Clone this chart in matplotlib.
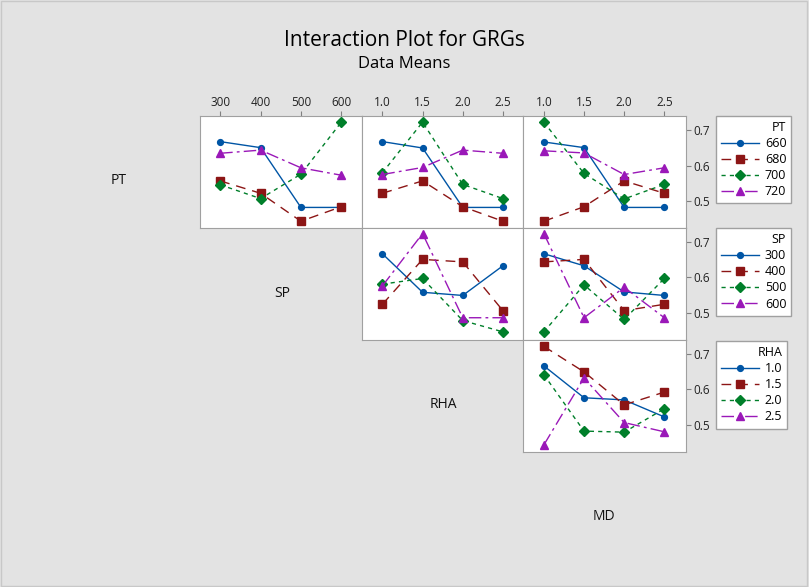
import numpy as np
import matplotlib.pyplot as plt
from matplotlib.lines import Line2D

plt.rcParams['font.family'] = ['Open Sans', 'DejaVu Sans']

# factor levels
sp_levels = [300, 400, 500, 600]
rha_levels = [1.0, 1.5, 2.0, 2.5]
md_levels = [1.0, 1.5, 2.0, 2.5]
pt_labels = ['660', '680', '700', '720']
sp_labels = ['300', '400', '500', '600']
rha_labels = ['1.0', '1.5', '2.0', '2.5']

# data means, one row per level of the trace factor
pt_x_sp = [[0.668, 0.651, 0.482, 0.482],
           [0.557, 0.522, 0.443, 0.484],
           [0.546, 0.507, 0.576, 0.723],
           [0.635, 0.644, 0.594, 0.573]]
pt_x_rha = [[0.668, 0.650, 0.482, 0.482],
            [0.522, 0.557, 0.484, 0.443],
            [0.580, 0.723, 0.547, 0.507],
            [0.575, 0.595, 0.644, 0.635]]
pt_x_md = [[0.667, 0.651, 0.482, 0.482],
           [0.443, 0.484, 0.557, 0.522],
           [0.723, 0.578, 0.506, 0.547],
           [0.642, 0.636, 0.575, 0.594]]
sp_x_rha = [[0.667, 0.558, 0.549, 0.633],
            [0.524, 0.651, 0.644, 0.506],
            [0.581, 0.597, 0.478, 0.446],
            [0.576, 0.724, 0.486, 0.486]]
sp_x_md = [[0.667, 0.633, 0.559, 0.549],
           [0.644, 0.651, 0.506, 0.524],
           [0.446, 0.579, 0.481, 0.597],
           [0.724, 0.486, 0.572, 0.486]]
rha_x_md = [[0.666, 0.576, 0.570, 0.522],
            [0.721, 0.649, 0.556, 0.592],
            [0.641, 0.482, 0.479, 0.545],
            [0.443, 0.632, 0.506, 0.480]]

colors = ['#0055a5', '#8c1515', '#007f2a', '#9a18b8']
markers = ['o', 's', 'D', '^']
msizes = [4.2, 5.8, 5.0, 6.2]
dashes = ['-', (0, (7, 5)), (0, (3, 3)), (0, (9, 3, 2, 3))]

W, H = 809, 587
fig = plt.figure(figsize=(W / 100, H / 100), dpi=100, facecolor='#e3e3e3')
fig.patches.append(plt.Rectangle((0.001, 0.002), 0.997, 0.996, transform=fig.transFigure,
                                 fill=False, edgecolor='#c8c8c8', lw=1))

col_edges = [200, 361.5, 523, 686]
row_edges = [116.5, 228.3, 340, 452]
xlims = [(250, 650), (0.74, 2.75), (0.74, 2.77)]
ylim = (0.423, 0.739)

panels = {(0, 0): (sp_levels, pt_x_sp), (0, 1): (rha_levels, pt_x_rha), (0, 2): (md_levels, pt_x_md),
          (1, 1): (rha_levels, sp_x_rha), (1, 2): (md_levels, sp_x_md),
          (2, 2): (md_levels, rha_x_md)}
xticklabels = [sp_labels, rha_labels, rha_labels]

axes = {}
for (r, c), (xs, means) in panels.items():
    l, rr = col_edges[c], col_edges[c + 1]
    t, b = row_edges[r], row_edges[r + 1]
    ax = fig.add_axes([l / W, 1 - b / H, (rr - l) / W, (b - t) / H])
    axes[(r, c)] = ax
    for i, ys in enumerate(means):
        ax.plot(xs, ys, color=colors[i], marker=markers[i], ms=msizes[i], lw=1,
                linestyle=dashes[i], mec=colors[i])
    ax.set_xlim(xlims[c])
    ax.set_ylim(ylim)
    for s in ax.spines.values():
        s.set_color('#a0a0a0')
    if r == 0:
        ax.xaxis.tick_top()
        ax.set_xticks(xs)
        ax.set_xticklabels(xticklabels[c])
    else:
        ax.set_xticks([])
    if c == 2:
        ax.yaxis.tick_right()
        ax.set_yticks([0.5, 0.6, 0.7])
        ax.set_yticklabels(['0.5', '0.6', '0.7'])
    else:
        ax.set_yticks([])
    ax.tick_params(labelsize=8.5, length=3.5, width=0.8, color='#808080', pad=2, labelcolor='#222222')

# factor names on the diagonal
names = ['PT', 'SP', 'RHA', 'MD']
name_pos = [(119, 181), (282, 293), (443, 405), (604, 517)]
for n, (x, y) in zip(names, name_pos):
    fig.text(x / W, 1 - y / H, n, ha='center', va='center', fontsize=10, color='#111111')

fig.text(0.5, 1 - 41 / H, 'Interaction Plot for GRGs', ha='center', va='center', fontsize=15)
fig.text(0.5, 1 - 64 / H, 'Data Means', ha='center', va='center', fontsize=12)

# legends
leg_titles = ['PT', 'SP', 'RHA']
leg_labels = [pt_labels, sp_labels, rha_labels]
leg_tops = [116, 228, 341]
for title, labs, top in zip(leg_titles, leg_labels, leg_tops):
    handles = [Line2D([], [], color=colors[i], marker=markers[i], ms=msizes[i], lw=1,
                      linestyle=dashes[i]) for i in range(4)]
    leg = fig.legend(handles, labs, title=title, loc='upper left',
                     bbox_to_anchor=(716 / W, 1 - top / H), fontsize=9, title_fontsize=9,
                     alignment='right', frameon=True, fancybox=False, edgecolor='#a0a0a0',
                     framealpha=1, borderpad=0.4, handlelength=3.0, handletextpad=0.5,
                     labelspacing=0.25, borderaxespad=0)
    leg.get_frame().set_linewidth(1)

fig.savefig('out.png', dpi=100, facecolor=fig.get_facecolor())
